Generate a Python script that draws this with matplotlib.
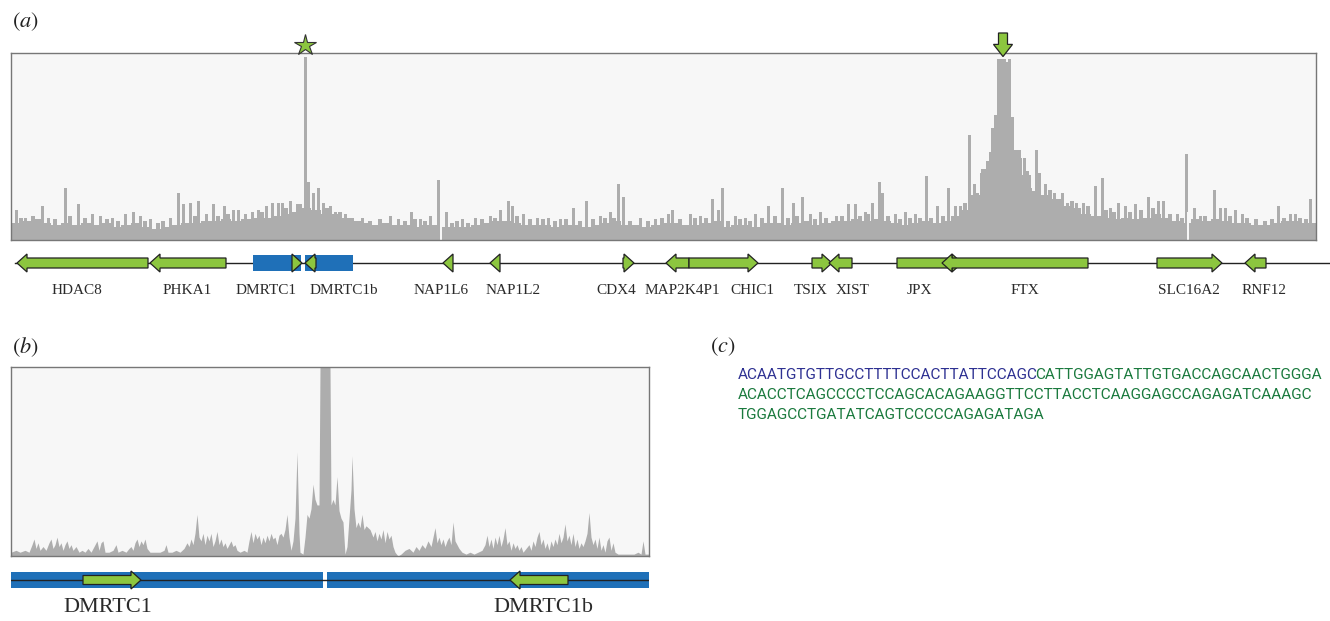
import matplotlib
matplotlib.use("Agg")
import matplotlib.pyplot as plt
from matplotlib.patches import FancyArrow

plt.rcParams['mathtext.fontset'] = 'stix'

W, H = 1330, 621

# ---------------- data ----------------
# (a) read coverage over the X region, 10-unit bins + narrow spikes on top
base_start = 11
base_step = 10
base_cov = [9, 10, 11, 9, 8, 9, 8, 9, 8, 9,
            7, 8, 9, 7, 6, 7, 8, 9, 9, 10,
            10, 11, 10, 11, 12, 12, 13, 14, 15, 17,
            16, 14, 14, 12, 10, 9, 8, 9, 8, 8,
            7, 8, 8, 7, 7, 7, 8, 9, 10, 10,
            9, 8, 8, 8, 7, 8, 8, 7, 8, 9,
            10, 8, 8, 7, 8, 9, 9, 8, 8, 9,
            10, 7, 8, 8, 7, 9, 9, 8, 9, 10,
            8, 9, 10, 10, 11, 10, 11, 10, 9, 8,
            9, 10, 9, 10, 13, 16, 24, 38, 60, 95,
            48, 35, 26, 24, 22, 18, 17, 14, 13, 12,
            11, 12, 11, 12, 14, 12, 10, 9, 11, 10,
            11, 10, 9, 9, 8, 8, 9, 10, 10, 9,
            9]

spike_pos = [17, 26, 42, 48, 65, 78, 92, 100, 112, 125, 133, 140, 150, 170, 178, 183,
             190, 198, 206, 213, 224, 233, 238, 245, 252, 258, 266, 272, 278, 282, 290,
             297, 305, 308, 313, 318, 323, 330, 335, 345, 362, 390, 398, 411, 420, 430,
             438, 446, 462, 475, 490, 500, 508, 512, 523, 537, 548, 560, 573, 586, 600,
             610, 618, 623, 640, 655, 668, 672, 690, 700, 712, 718, 722, 735, 745, 755,
             768, 782, 793, 802, 810, 820, 836, 848, 855, 865, 872, 879, 882, 895, 905,
             915, 926, 937, 948, 955, 960, 969, 974, 977, 981, 984, 987, 990, 993, 995,
             998, 1001, 1004, 1006, 1009, 1012, 1016, 1020, 1024, 1027, 1030, 1036, 1039,
             1045, 1054, 1062, 1067, 1076, 1083, 1095, 1102, 1110, 1118, 1125, 1135, 1148,
             1158, 1163, 1177, 1186, 1194, 1200, 1214, 1220, 1225, 1235, 1242, 1278, 1290,
             1295, 1310]
spike_cov = [16, 12, 18, 12, 28, 19, 14, 13, 12, 14, 15, 13, 11, 12, 25, 19,
             20, 21, 14, 19, 18, 16, 16, 14, 15, 16, 18, 20, 20, 20, 21,
             19, 98, 31, 25, 28, 20, 18, 15, 14, 12, 13, 11, 15, 11, 13,
             32, 15, 11, 12, 13, 16, 21, 18, 14, 12, 12, 11, 17, 21, 13,
             15, 30, 23, 12, 11, 14, 16, 14, 13, 22, 16, 28, 13, 12, 14,
             18, 28, 20, 23, 14, 15, 13, 19, 19, 15, 20, 31, 25, 14, 15,
             14, 34, 18, 28, 18, 18, 56, 30, 25, 36, 36, 42, 47, 47, 67,
             97, 97, 97, 93, 97, 66, 44, 44, 44, 37, 28, 48, 36,
             30, 25, 25, 20, 20, 20, 29, 33, 17, 20, 18, 19, 23,
             21, 21, 14, 46, 17, 13, 27, 17, 17, 16, 14, 18, 14,
             14, 22]
# smaller jags between the spikes
jag_pos = [21, 33, 55, 70, 85, 107, 118, 145, 158, 163, 195, 218, 228, 262, 286, 300,
           327, 340, 352, 370, 380, 405, 415, 425, 452,
           457, 468, 482, 495, 517, 530, 543, 555, 566, 580, 593, 605, 614,
           630, 648, 662, 680, 695, 706, 728, 740, 750, 762, 775, 788, 797, 815, 826,
           842, 860, 868, 888, 900, 910, 920, 931, 943, 965,
           1050, 1058, 1072, 1088, 1106, 1114, 1130, 1141, 1153, 1170, 1182, 1205, 1230,
           1247, 1256, 1265, 1272, 1284, 1300, 1306]
jag_cov = [12, 13, 11, 13, 12, 11, 10, 10, 9, 10, 13, 13, 14, 15, 17, 19,
           17, 15, 12, 10, 11, 10, 11, 10, 9,
           10, 9, 11, 12, 13, 11, 11, 10, 11, 10, 11, 12, 12,
           10, 10, 12, 11, 12, 12, 10, 11, 10, 12, 13, 12, 13, 11, 12,
           13, 13, 14, 13, 11, 12, 12, 12, 13, 20,
           27, 22, 21, 18, 16, 15, 15, 16, 17, 14, 12, 13, 13,
           12, 11, 10, 11, 12, 12, 11]
gap_pos = [441, 1188]

# (a) gene annotation
gene_names = ["HDAC8", "PHKA1", "DMRTC1", "DMRTC1b", "NAP1L6", "NAP1L2", "CDX4",
              "MAP2K4P1", "CHIC1", "TSIX", "XIST", "JPX", "FTX", "SLC16A2", "RNF12"]
gene_start = [17, 150, 292, 305, 443, 490, 623, 666, 689, 812, 829, 897, 942, 1157, 1245]
gene_end = [148, 226, 302, 316, 453, 500, 634, 689, 758, 832, 852, 962, 1088, 1222, 1266]
gene_strand = ['-', '-', '+', '-', '-', '-', '+', '-', '+', '+', '-', '+', '-', '+', '-']
label_pos = [77, 187, 266, 344, 441, 513, 616, 682, 752, 811, 853, 919, 1025, 1189, 1264]
dmr_start = [253, 305]
dmr_end = [301, 353]

# (b) zoom on DMRTC1 / DMRTC1b
b_pos = [11, 16, 20, 25, 29, 32, 34, 36, 38, 40,
         43, 46, 49, 51, 53, 55, 57, 59, 61, 63,
         65, 67, 69, 71, 73, 76, 79, 82, 85, 88,
         91, 94, 97, 99, 101, 103, 105, 109, 113, 116,
         118, 122, 126, 129, 131, 133, 135, 137, 139, 141,
         143, 145, 147, 150, 155, 160, 164, 166, 168, 172,
         176, 180, 184, 187, 189, 191, 193, 195, 197, 199,
         201, 203, 205, 207, 209, 211, 213, 215, 217, 219,
         221, 223, 225, 227, 229, 231, 233, 235, 237, 240,
         244, 247, 249, 251, 253, 255, 257, 259, 261, 263,
         265, 267, 269, 271, 273, 275, 277, 279, 281, 283,
         285, 287, 289, 291, 293, 295, 297, 299, 300, 303,
         305, 307, 309, 311, 313, 315, 317, 319, 320, 330,
         331, 333, 335, 337, 339, 341, 343, 345, 347, 349,
         351, 352, 354, 356, 358, 360, 362, 364, 366, 368,
         370, 373, 375, 377, 379, 381, 383, 385, 387, 389,
         391, 393, 395, 398, 401, 405, 409, 413, 416, 419,
         422, 425, 428, 431, 433, 435, 437, 439, 441, 443,
         445, 447, 449, 451, 453, 455, 457, 459, 462, 466,
         470, 474, 478, 482, 485, 487, 489, 491, 493, 495,
         497, 499, 501, 503, 505, 507, 509, 511, 513, 515,
         517, 519, 521, 523, 526, 529, 531, 533, 535, 537,
         539, 541, 543, 545, 547, 549, 551, 553, 555, 557,
         559, 561, 563, 565, 567, 569, 571, 573, 575, 577,
         579, 581, 583, 585, 587, 589, 591, 593, 595, 597,
         599, 601, 603, 605, 607, 609, 611, 613, 615, 618,
         622, 626, 630, 634, 638, 641, 643, 645, 649]
b_cov = [2, 3, 2, 3, 2, 6, 9, 4, 7, 3,
         5, 3, 7, 9, 4, 6, 10, 5, 7, 3,
         6, 8, 4, 6, 3, 5, 2, 3, 2, 4,
         2, 5, 8, 3, 7, 8, 2, 2, 3, 6,
         2, 3, 2, 4, 5, 3, 7, 9, 5, 8,
         6, 9, 4, 2, 2, 2, 3, 6, 2, 2,
         3, 2, 4, 7, 5, 9, 6, 12, 22, 10,
         8, 12, 6, 11, 8, 12, 5, 8, 13, 6,
         9, 5, 7, 4, 6, 8, 5, 6, 3, 2,
         3, 2, 8, 13, 7, 12, 9, 11, 6, 10,
         7, 11, 8, 12, 9, 10, 6, 11, 12, 10,
         14, 22, 10, 3, 8, 20, 55, 12, 2, 1,
         10, 22, 20, 25, 38, 30, 27, 27, 100, 100,
         27, 30, 27, 42, 24, 20, 18, 1, 5, 20,
         35, 53, 25, 15, 18, 15, 22, 14, 16, 15,
         14, 10, 13, 8, 12, 9, 14, 7, 13, 9,
         11, 5, 2, 0, 1, 3, 4, 2, 5, 3,
         6, 4, 8, 5, 10, 15, 7, 10, 6, 9,
         5, 8, 10, 6, 18, 8, 6, 4, 2, 1,
         2, 1, 2, 3, 6, 11, 5, 9, 4, 10,
         6, 11, 5, 9, 15, 6, 8, 3, 7, 4,
         6, 3, 5, 2, 4, 6, 3, 8, 5, 10,
         13, 6, 9, 4, 7, 3, 8, 5, 9, 6,
         12, 7, 10, 17, 8, 11, 6, 12, 5, 9,
         4, 7, 5, 8, 12, 23, 10, 6, 9, 4,
         10, 3, 6, 2, 8, 10, 3, 7, 2, 1,
         1, 1, 1, 1, 2, 1, 8, 1, 1]
b_gene_names = ["DMRTC1", "DMRTC1b"]
b_gene_start = [83, 510]
b_gene_end = [141, 568]
b_gene_strand = ['+', '-']
b_label_pos = [108, 543]
b_dmr_start = [11, 327]
b_dmr_end = [323, 649]

# (c) sequence
seq_blue = "ACAATGTGTTGCCTTTTCCACTTATTCCAGC"
seq_lines = ["CATTGGAGTATTGTGACCAGCAACTGGGA",
             "ACACCTCAGCCCCTCCAGCACAGAAGGTTCCTTACCTCAAGGAGCCAGAGATCAAAGC",
             "TGGAGCCTGATATCAGTCCCCCAGAGATAGA"]

# ---------------- style ----------------
GREEN = '#8cc63f'
BLUE = '#1f70b8'
GRAY = '#adadad'
BG = '#f7f7f7'
SERIF = 'Liberation Serif'
SEQ_FONT = 'Roboto'

fig = plt.figure(figsize=(W / 100, H / 100), dpi=100)


def px_axes(x0, y0, x1, y1):
    return fig.add_axes([x0 / W, 1 - y1 / H, (x1 - x0) / W, (y1 - y0) / H])


def gene(ax, start, end, strand, y, body=10, head=18, head_len=10):
    length = end - start
    hl = min(head_len, length)
    if strand == '+':
        x, dx = start, length
    else:
        x, dx = end, -length
    ax.add_patch(FancyArrow(x, y, dx, 0, width=body, head_width=head, head_length=hl,
                            length_includes_head=True, facecolor=GREEN,
                            edgecolor='#222222', linewidth=0.9, zorder=3))


def cov_box(ax):
    ax.set_facecolor(BG)
    for s in ax.spines.values():
        s.set_color('#777777')
        s.set_linewidth(1)
    ax.set_xticks([])
    ax.set_yticks([])
    ax.set_ylim(0, 100)


# ---- (a) coverage
ax_a = px_axes(11, 53, 1316, 240)
cov_box(ax_a)
ax_a.set_xlim(11, 1316)
base_x = [base_start + base_step * i + base_step / 2 for i in range(len(base_cov))]
ax_a.bar(base_x, base_cov, width=base_step, color=GRAY, linewidth=0)
ax_a.bar(jag_pos, jag_cov, width=4, color=GRAY, linewidth=0)
ax_a.bar(spike_pos, spike_cov, width=3, color=GRAY, linewidth=0)
ax_a.bar(gap_pos, [15] * len(gap_pos), width=1.5, color=BG, linewidth=0)

# star over the DMRTC1 peak, arrow over FTX peak
ax_a.plot([305], [104.3], marker='*', markersize=16, color=GREEN,
          markeredgecolor='#333333', markeredgewidth=0.8, clip_on=False, zorder=5)
ax_a.add_patch(FancyArrow(1003, 110.7, 0, -12.6, width=9, head_width=19, head_length=6.5,
                          length_includes_head=True, facecolor=GREEN, edgecolor='#222222',
                          linewidth=0.9, clip_on=False, zorder=5))

# ---- (a) genes
ax_g = px_axes(11, 245, 1330, 310)
ax_g.set_xlim(11, 1330)
ax_g.set_ylim(310, 245)
ax_g.axis('off')
ax_g.plot([15, 1330], [263, 263], color='#222222', lw=1, zorder=1)
ax_g.barh([263] * len(dmr_start), [e - s for s, e in zip(dmr_start, dmr_end)],
          left=dmr_start, height=16, color=BLUE, zorder=2)
for s, e, st in zip(gene_start, gene_end, gene_strand):
    gene(ax_g, s, e, st, 263)
for name, x in zip(gene_names, label_pos):
    ax_g.text(x, 290, name, ha='center', va='center', fontsize=11, family=SERIF,
              color='#2a2a2a')

# ---- (b) coverage
ax_b = px_axes(11, 367, 649, 556)
cov_box(ax_b)
ax_b.set_xlim(11, 649)
ax_b.fill_between(b_pos, b_cov, color=GRAY, linewidth=0)

# ---- (b) genes
ax_bg = px_axes(11, 562, 649, 621)
ax_bg.set_xlim(11, 649)
ax_bg.set_ylim(621, 562)
ax_bg.axis('off')
ax_bg.barh([580] * len(b_dmr_start), [e - s for s, e in zip(b_dmr_start, b_dmr_end)],
           left=b_dmr_start, height=16, color=BLUE, zorder=1)
ax_bg.plot([11, 649], [580, 580], color='#222222', lw=1, zorder=2)
for s, e, st in zip(b_gene_start, b_gene_end, b_gene_strand):
    gene(ax_bg, s, e, st, 580, body=9, head=18, head_len=10)
for name, x in zip(b_gene_names, b_label_pos):
    ax_bg.text(x, 607, name, ha='center', va='center', fontsize=16, family=SERIF,
               color='#2a2a2a')

# ---- panel letters
for lab, x, y in [('a', 12, 22), ('b', 12, 347), ('c', 710, 347)]:
    fig.text(x / W, 1 - y / H, r'$(%s)$' % lab, fontsize=16, va='center', ha='left',
             color='#222222')

# ---- (c) sequence, sized so the first line spans the same width as the figure's
ax_c = px_axes(690, 330, 1330, 621)
ax_c.axis('off')
renderer = fig.canvas.get_renderer()
probe = fig.text(0, 0, seq_blue + seq_lines[0], fontsize=10, family=SEQ_FONT)
probe_w = probe.get_window_extent(renderer).width
probe.remove()
seq_size = 10 * 588 / probe_w

t = fig.text(738 / W, 1 - 375 / H, seq_blue, color='#2e3192', va='center', ha='left',
             fontsize=seq_size, family=SEQ_FONT)
ax_c.annotate(seq_lines[0], xy=(1, 0.5), xycoords=t, xytext=(-3, 0),
              textcoords='offset pixels', va='center', ha='left',
              color='#1b7a3e', fontsize=seq_size, family=SEQ_FONT)
for i, line in enumerate(seq_lines[1:]):
    fig.text(738 / W, 1 - (395 + 20 * i) / H, line, color='#1b7a3e', va='center',
             ha='left', fontsize=seq_size, family=SEQ_FONT)

fig.savefig('out.png', dpi=100)
